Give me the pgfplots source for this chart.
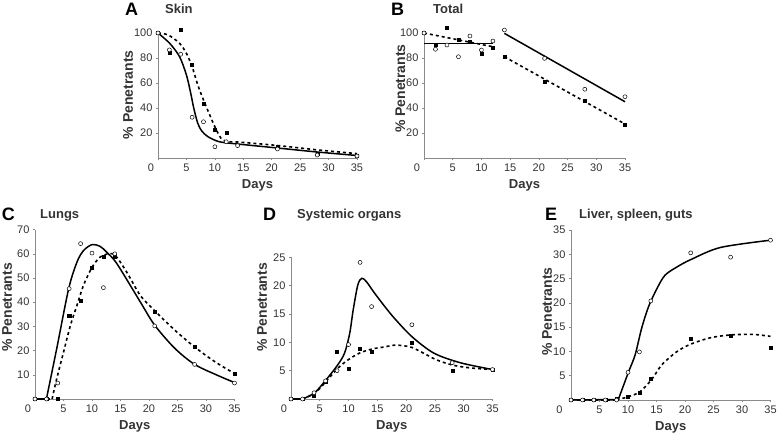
\documentclass[border=0pt]{standalone}
\usepackage{pgfplots}
\pgfplotsset{compat=1.18}
\usepackage{fontspec}
\setmainfont{Liberation Sans}
\definecolor{axgray}{HTML}{8A8A8A}
\definecolor{txgray}{HTML}{333333}
\pgfplotsset{
  panel/.style={
    scale only axis,
    axis x line*=bottom, axis y line*=left,
    xmin=0, xmax=35, ymin=0,
    axis line style={axgray, line width=0.9pt},
    tick style={axgray, line width=0.6pt},
    major tick length=2pt, tick align=outside,
    xtick={5,10,...,35},
    extra x ticks={0},
    extra x tick style={xticklabel style={xshift=-7pt}},
    ticklabel style={font=\fontsize{11}{12}\selectfont, text=txgray},
    /pgf/number format/assume math mode=true,
    xlabel={Days}, ylabel={\% Penetrants},
    xlabel style={font=\fontsize{13}{14}\selectfont\bfseries, text=txgray, yshift=3pt},
    ylabel style={font=\fontsize{14}{15}\selectfont\bfseries, text=txgray},
    clip=false,
  },
  ylab/.style 2 args={ylabel style={at={([xshift=-#1]axis description cs:0,#2)}, anchor=center}},
  fitsolid/.style={black, line width=1.5pt, no marks},
  fitdash/.style={black, line width=1.6pt, dash pattern=on 3pt off 3pt, no marks},
  circ/.style={only marks, mark=*, mark size=2pt, mark options={fill=white, draw=black, line width=0.5pt}},
  sq/.style={only marks, mark=square*, mark size=1.5pt, mark options={fill=black, draw=black}},
}
\begin{document}
\begin{tikzpicture}
\path[use as bounding box] (0,0) rectangle (778pt,437pt);

% ---------- A Skin ----------
\begin{axis}[panel, at={(158pt,279pt)}, anchor=south west,
  width=199pt, height=126.25pt, ymax=101, ytick={20,40,60,80,100}, ylab={30pt}{0.5}]
\addplot[fitdash, smooth] coordinates {(0,100) (1.8,98.4) (3.8,91.7) (5,83.7) (6,73) (7,58.4) (8,46.4) (9.1,34.4) (10,25) (11.1,15.7) (12.3,13) (14,12.8) (21,10) (28,6.5) (35,3.5)};
\addplot[fitsolid, smooth] coordinates {(0,100) (2.06,91.7) (3.8,81) (5,66.4) (5.7,53) (6.3,39.7) (7,27.7) (7.7,21.6) (8.8,17) (10.8,13) (14,11.2) (21,8) (28,4.8) (35,2)};
\addplot[sq] coordinates {(0,100) (2,84.5) (4,102.4) (6,74.4) (8,43.7) (10,23) (12,20.5) (21,9.3) (28,3.2) (35,2)};
\addplot[circ] coordinates {(0,100) (2,86.5) (4,83) (6,32.6) (8,29) (10,9) (12,13) (14,9.9) (21,7.2) (28,2.4) (35,1.6)};
\end{axis}

% ---------- B Total ----------
\begin{axis}[panel, at={(424pt,279pt)}, anchor=south west,
  width=201pt, height=126.25pt, ymax=101, ytick={20,40,60,80,100}, ylab={23.6pt}{0.55}]
\addplot[fitsolid] coordinates {(0,91.7) (12,91.7)};
\addplot[fitsolid] coordinates {(14,99.7) (35,45)};
\addplot[fitdash] coordinates {(0,100) (12,89)};
\addplot[fitdash] coordinates {(14,81) (35,27.2)};
\addplot[sq] coordinates {(0,100) (2,91) (4,104.5) (6,95) (8,93) (10,83.7) (12,88) (14,81) (21,61) (28,45.9) (35,26.4)};
\addplot[circ] coordinates {(0,100) (2,87) (4,90.4) (6,81) (8,97.6) (10,86.4) (12,93.6) (14,102.4) (21,79.7) (28,55) (35,49)};
\end{axis}

% ---------- C Lungs ----------
\begin{axis}[panel, at={(35pt,38pt)}, anchor=south west,
  width=199.5pt, height=169.4pt, ymax=70, ytick={10,20,...,70}, ylab={28pt}{0.54}]
\addplot[fitdash] coordinates {(0,0) (3,0)};
\addplot[fitdash, smooth] coordinates {(3,0) (3.8,8.3) (5,19.3) (6.2,30.3) (7.35,38.6) (8.5,46.9) (10,54.4) (11.4,58.6) (12.9,60) (14.1,59.3) (16.1,52.4) (18.5,42.7) (21,36.5) (24.5,28.5) (28,21.5) (31.5,15.5) (35,10.5)};
\addplot[fitsolid] coordinates {(0,0) (2,0)};
\addplot[fitsolid, smooth] coordinates {(2,0) (3.8,20.7) (5.9,45.5) (7.35,56.5) (8.5,61.3) (10,63.8) (11.4,63.1) (12.6,60.6) (14.4,55.8) (18.5,40) (21,30.5) (24.5,21) (28,14.3) (32,9.8) (35,6.8)};
\addplot[sq] coordinates {(0,0) (2,0) (4,0) (6,34.6) (8,40.5) (10,54.1) (12,59) (14,59) (21,36.2) (28,21.5) (35,10.5)};
\addplot[circ] coordinates {(0,0) (2,0) (4,6.6) (6,45.6) (8,64.2) (10,60.3) (12,46) (14,60) (21,30.2) (28,14.3) (35,6.6)};
\end{axis}

% ---------- D Systemic organs ----------
\begin{axis}[panel, at={(291pt,38pt)}, anchor=south west,
  width=201.5pt, height=141.7pt, ymax=25, ytick={5,10,...,25}, ylab={29pt}{0.646}]
\addplot[fitdash] coordinates {(0,0) (2,0)};
\addplot[fitdash, smooth] coordinates {(2,0) (4.1,1) (6.1,3.1) (8.1,5.4) (9.9,6.9) (11.9,8.1) (14,8.8) (16.3,9.2) (18,9.5) (19.5,9.4) (21,9.1) (23,8.1) (25.3,6.9) (28,6) (31,5.5) (35,5.2)};
\addplot[fitsolid] coordinates {(0,0) (2,0)};
\addplot[fitsolid, smooth] coordinates {(2,0) (4.1,1.1) (6.1,3.4) (8.1,6) (9.3,8.1) (10.2,11.6) (10.8,15.7) (11.6,20.1) (12.3,21.3) (13.1,20.7) (14.5,18.7) (16.3,16.3) (18,14.2) (21,11) (24.8,8.1) (29.4,6.4) (35,5.2)};
\addplot[sq] coordinates {(0,0) (2,0) (4,0.6) (6,3.1) (8,8.3) (10,5.3) (12,8.8) (14,8.3) (21,9.9) (28,5) (35,5.2)};
\addplot[circ] coordinates {(0,0) (2,0) (4,1.1) (6,3.2) (8,5) (10,9.6) (12,24.1) (14,16.3) (21,13.1) (28,6.4) (35,5.2)};
\end{axis}

% ---------- E Liver, spleen, guts ----------
\begin{axis}[panel, at={(571pt,37pt)}, anchor=south west,
  width=199.5pt, height=170pt, ymax=35, ytick={5,10,...,35}, ylab={24pt}{0.52},
  extra x tick style={xticklabel style={xshift=-4.5pt}}]
\addplot[fitdash] coordinates {(0,0) (8,0)};
\addplot[fitdash, smooth] coordinates {(8,0) (10.1,0.7) (12.1,1.7) (14.2,4.3) (15.9,7.2) (18.5,9.9) (21,11.5) (24.4,12.8) (28,13.4) (32,13.5) (35,13.1)};
\addplot[fitsolid] coordinates {(0,0) (8.3,0.1)};
\addplot[fitsolid, smooth] coordinates {(8.3,0.1) (10.1,5.8) (11.25,9.3) (12.4,14.8) (13.6,19.2) (15.1,23) (16.5,25.7) (18.6,27.4) (21,28.9) (26.2,31.4) (35,32.9)};
\addplot[sq] coordinates {(0,0) (2,0) (4,0) (6,0) (8,0.2) (10,0.7) (12,1.5) (14,4.3) (21,12.7) (28,13.2) (35,10.8)};
\addplot[circ] coordinates {(0,0) (2,0) (4,0) (6,0) (8,0) (10,5.7) (12,9.9) (14,20.4) (21,30.3) (28,29.4) (35,32.9)};
\end{axis}

% ---------- panel letters and titles ----------
\begin{scope}[every node/.style={inner sep=0pt, anchor=base west, text=black}]
\node[font=\fontsize{18}{20}\selectfont\bfseries] at (125pt,421pt) {A};
\node[font=\fontsize{13}{15}\selectfont\bfseries, text=txgray] at (165pt,423.7pt) {Skin};
\node[font=\fontsize{18}{20}\selectfont\bfseries] at (391pt,421pt) {B};
\node[font=\fontsize{13}{15}\selectfont\bfseries, text=txgray] at (433pt,423.7pt) {Total};
\node[font=\fontsize{18}{20}\selectfont\bfseries] at (1.7pt,217pt) {C};
\node[font=\fontsize{13}{15}\selectfont\bfseries, text=txgray] at (40pt,218.7pt) {Lungs};
\node[font=\fontsize{18}{20}\selectfont\bfseries] at (263pt,217pt) {D};
\node[font=\fontsize{13}{15}\selectfont\bfseries, text=txgray] at (297pt,219pt) {Systemic organs};
\node[font=\fontsize{18}{20}\selectfont\bfseries] at (545pt,217pt) {E};
\node[font=\fontsize{13}{15}\selectfont\bfseries, text=txgray] at (579pt,219pt) {Liver, spleen, guts};
\end{scope}
\end{tikzpicture}
\end{document}
